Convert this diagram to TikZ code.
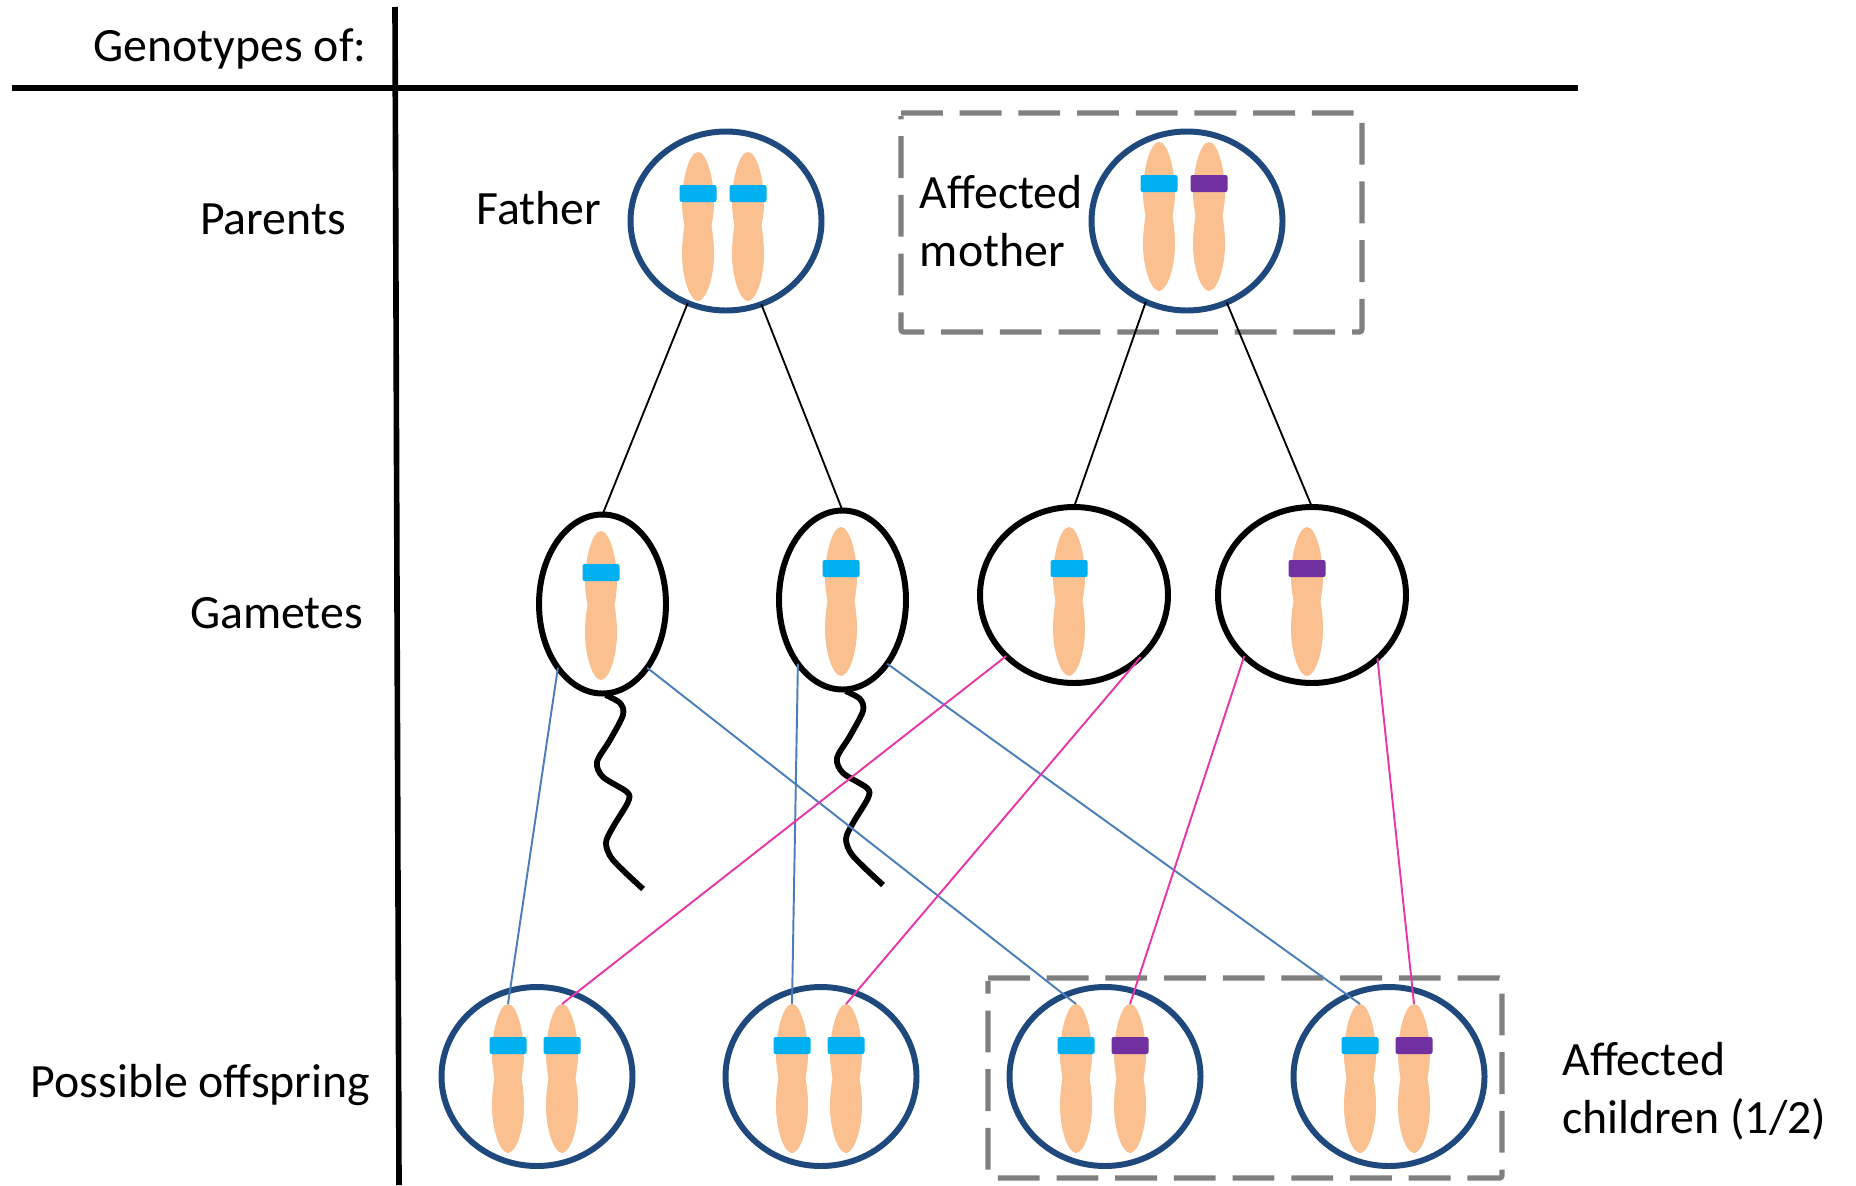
\documentclass[tikz,border=0pt]{standalone}
\usepackage{fontspec}
\setmainfont{Carlito}
\usetikzlibrary{shapes.geometric}

\definecolor{cellnavy}{HTML}{1F497D}
\definecolor{chromopeach}{HTML}{FAC090}
\definecolor{normalblue}{HTML}{00B0F0}
\definecolor{mutantpurple}{HTML}{7030A0}
\definecolor{boxgray}{HTML}{7F7F7F}
\definecolor{fatherline}{HTML}{4A7EBB}
\definecolor{motherline}{HTML}{E636A8}

% name, x, y of the top end, colour of the band
\newcommand{\chromosome}[4]{
  \fill[chromopeach, shift={(#2,#3)}] (0,0) .. controls (9,0) and (16,28) .. (16,50)
    .. controls (16,60) and (14.5,68) .. (13.5,74) .. controls (14.5,80) and (16,90) .. (16,102)
    .. controls (16,126) and (8,149) .. (0,149) .. controls (-8,149) and (-16,126) .. (-16,102)
    .. controls (-16,90) and (-14.5,80) .. (-13.5,74) .. controls (-14.5,68) and (-16,60) .. (-16,50)
    .. controls (-16,28) and (-9,0) .. (0,0) -- cycle;
  \coordinate (#1) at (#2,#3);
  \node[band, fill=#4] (#1band) at (#2,#3+41.5) {};
}

\begin{document}
\begin{tikzpicture}[x=0.2mm, y=-0.2mm,
    label/.style={font=\fontsize{27.2}{33}\selectfont, inner sep=0pt, align=left},
    cell/.style={draw=cellnavy, line width=3.4pt, ellipse, inner sep=0pt, outer sep=0pt, minimum width=38.2mm, minimum height=35.8mm},
    egg/.style={draw=black, line width=3.4pt, ellipse, inner sep=0pt, outer sep=0pt, minimum width=37.6mm, minimum height=35.2mm},
    sperm/.style={draw=black, line width=3.4pt, ellipse, inner sep=0pt, outer sep=0pt, minimum width=25.4mm, minimum height=35.8mm},
    band/.style={rounded corners=1.2pt, inner sep=0pt, outer sep=0pt, minimum width=7.4mm, minimum height=3.4mm},
    axis/.style={line width=3.2pt},
    dashbox/.style={draw=boxgray, line width=3pt, rounded corners=1.5pt, dash pattern=on 23.8pt off 9.6pt},
    tail/.style={line width=3.3pt},
    edge/.style={line width=1.05pt},
    fromfather/.style={draw=fatherline, line width=1.1pt},
    frommother/.style={draw=motherline, line width=1.1pt}]
  \useasboundingbox (0,0) rectangle (1856,1185);

  % Table lines
  \coordinate (ruleleft) at (12,88);
  \coordinate (ruleright) at (1578,88);
  \coordinate (railtop) at (395,7);
  \coordinate (railbottom) at (399,1185);
  \draw[axis] (ruleleft) -- (ruleright);
  \draw[axis] (railtop) -- (railbottom);

  % Labels
  \node[label] (genotypes) at (230,49) {Genotypes of:};
  \node[label] (parents) at (273,219) {Parents};
  \node[label] (gametes) at (276.5,613) {Gametes};
  \node[label] (possible) at (200.5,1085) {Possible offspring};
  \node[label] (fathertext) at (539,208) {Father};
  \node[label, anchor=west] (mothertext) at (919.5,221) {Affected\\mother};
  \node[label, anchor=west] (childrentext) at (1562,1091) {Affected\\children (1/2)};

  % Dashed boxes
  \draw[dashbox] (901,113) -| (1362,332) -| (901,116);
  \draw[dashbox] (988,978) -| (1502,1178) -| (988,981);

  % Parents
  \node[cell] (father) at (726,221) {};
  \node[cell] (mother) at (1187,221) {};
  \chromosome{fatherA}{698}{152}{normalblue}
  \chromosome{fatherB}{748}{152}{normalblue}
  \chromosome{motherA}{1159}{142}{normalblue}
  \chromosome{motherB}{1209}{142}{mutantpurple}

  % Gametes
  \node[sperm] (spermA) at (602.5,604) {};
  \node[sperm] (spermB) at (842.5,600) {};
  \node[egg] (eggA) at (1074,595) {};
  \node[egg] (eggB) at (1312,595) {};
  \chromosome{gameteA}{601}{531}{normalblue}
  \chromosome{gameteB}{841}{527}{normalblue}
  \chromosome{gameteC}{1069}{527}{normalblue}
  \chromosome{gameteD}{1307}{527}{mutantpurple}
  \foreach \sp in {spermA,spermB}
    \draw[tail, shift={(\sp.south)}] plot[smooth] coordinates {(3,1.5) (17.5,9.5) (20.5,21.5) (7.5,46.5)
      (-5.5,68.5) (0.5,83.5) (24.5,98.5) (25.5,108.5) (10.5,133.5) (3.5,149.5) (10.5,166.5) (40.5,195.5)};

  % Offspring
  \node[cell] (childA) at (537,1076.5) {};
  \node[cell] (childB) at (821,1076.5) {};
  \node[cell] (childC) at (1105,1076.5) {};
  \node[cell] (childD) at (1389,1076.5) {};
  \chromosome{childAleft}{508}{1004}{normalblue}
  \chromosome{childAright}{562}{1004}{normalblue}
  \chromosome{childBleft}{792}{1004}{normalblue}
  \chromosome{childBright}{846}{1004}{normalblue}
  \chromosome{childCleft}{1076}{1004}{normalblue}
  \chromosome{childCright}{1130}{1004}{mutantpurple}
  \chromosome{childDleft}{1360}{1004}{normalblue}
  \chromosome{childDright}{1414}{1004}{mutantpurple}

  % Edges
  \draw[edge] (father.245) -- (spermA.north);
  \draw[edge] (father.293) -- (spermB.north);
  \draw[edge] (mother.243) -- (eggA.north);
  \draw[edge] (mother.296) -- (eggB.north);
  \draw[fromfather] (spermA.235) -- (childAleft);
  \draw[fromfather] (spermA.305) -- (childCleft);
  \draw[fromfather] (spermB.235) -- (childBleft);
  \draw[fromfather] (spermB.305) -- (childDleft);
  \draw[frommother] (eggA.222) -- (childAright);
  \draw[frommother] (eggA.317) -- (childBright);
  \draw[frommother] (eggB.222) -- (childCright);
  \draw[frommother] (eggB.316) -- (childDright);
\end{tikzpicture}
\end{document}
